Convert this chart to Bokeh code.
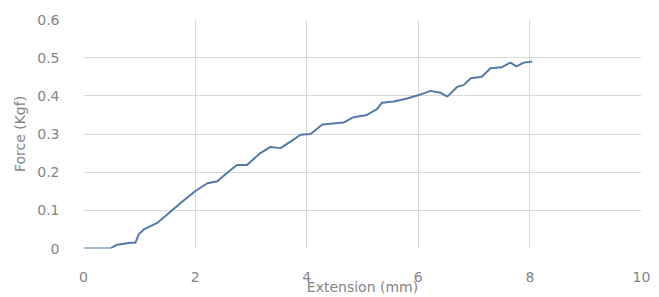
from bokeh.plotting import figure
from bokeh.models import FixedTicker, NumeralTickFormatter, Range1d
from bokeh.embed import file_html
from bokeh.resources import INLINE

# Extension (mm) and force (Kgf)
extension = [0, 0.48, 0.6, 0.84, 0.93, 0.99, 1.08, 1.32, 1.5, 1.74, 2.0, 2.22, 2.4,
             2.57, 2.75, 2.93, 3.17, 3.35, 3.53, 3.71, 3.89, 4.07, 4.28, 4.66, 4.84,
             5.08, 5.26, 5.35, 5.56, 5.8, 6.01, 6.22, 6.4, 6.52, 6.7, 6.81, 6.94,
             7.14, 7.29, 7.5, 7.65, 7.76, 7.89, 8.04]
force = [0, 0, 0.01, 0.015, 0.015, 0.037, 0.05, 0.067, 0.089, 0.119, 0.15, 0.171, 0.176,
         0.198, 0.219, 0.219, 0.25, 0.266, 0.263, 0.28, 0.298, 0.30, 0.325, 0.33, 0.344,
         0.35, 0.365, 0.382, 0.385, 0.393, 0.402, 0.413, 0.408, 0.398, 0.424, 0.428, 0.446,
         0.45, 0.472, 0.475, 0.487, 0.477, 0.487, 0.49]
x_ticks = [0, 2, 4, 6, 8, 10]
y_ticks = [0, 0.1, 0.2, 0.3, 0.4, 0.5, 0.6]

FONT = "DejaVu Sans"
TXT = "#858585"

p = figure(width=651, height=297, output_backend="svg", toolbar_location=None,
           x_range=Range1d(0, 10), y_range=Range1d(0, 0.6),
           min_border_left=83, min_border_right=10, min_border_top=19, min_border_bottom=48)
p.outline_line_color = None
p.background_fill_color = "white"
p.border_fill_color = "white"

p.line(extension, force, line_color="#5479a8", line_width=2)

p.xaxis.ticker = FixedTicker(ticks=x_ticks)
p.yaxis.ticker = FixedTicker(ticks=y_ticks)
p.yaxis.formatter = NumeralTickFormatter(format="0.[0]")

for ax in (p.xaxis, p.yaxis):
    ax.axis_line_color = None
    ax.major_tick_line_color = None
    ax.minor_tick_line_color = None
    ax.major_label_text_font = FONT
    ax.major_label_text_font_size = "14px"
    ax.major_label_text_color = TXT
    ax.axis_label_text_font = FONT
    ax.axis_label_text_font_size = "14px"
    ax.axis_label_text_color = TXT
    ax.axis_label_text_font_style = "normal"

p.xaxis.axis_label = "Extension (mm)"
p.yaxis.axis_label = "Force (Kgf)"
p.xaxis.major_label_standoff = 17
p.yaxis.major_label_standoff = 18
p.xaxis.axis_label_standoff = -6
p.yaxis.axis_label_standoff = 6

p.xgrid.grid_line_color = "#d9d9d9"
p.ygrid.grid_line_color = "#d9d9d9"
p.xgrid.grid_line_width = 1
p.ygrid.grid_line_width = 1

open("out.html", "w").write(file_html(p, INLINE))
